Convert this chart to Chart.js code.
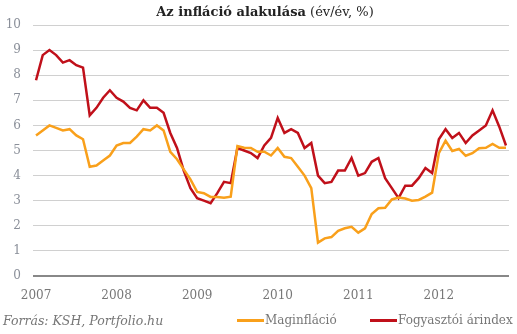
<!DOCTYPE html>
<html>
<head>
<meta charset="utf-8">
<script src="https://cdn.jsdelivr.net/npm/chart.js@4.4.0/dist/chart.umd.min.js"></script>
<style>
  body { margin: 0; background: #fff; }
  #wrap { position: relative; width: 517px; height: 334px; font-family: "DejaVu Serif", Georgia, serif; }
  #title { position: absolute; left: 0; width: 530px; top: 4px; text-align: center; font-size: 13px; color: #222; }
  #title b { font-weight: bold; }
  #source { position: absolute; left: 3px; top: 313px; font-size: 12.5px; font-style: italic; color: #777; }
  .leg { position: absolute; top: 313px; font-size: 12px; color: #777; white-space: nowrap; }
  .leg span { display: inline-block; width: 27px; height: 3px; vertical-align: middle; margin-right: 1px; }
</style>
</head>
<body>
<div id="wrap">
  <canvas id="infl" width="517" height="334"></canvas>
  <div id="title"><b>Az infláció alakulása</b> (év/év, %)</div>
  <div id="source">Forrás: KSH, Portfolio.hu</div>
  <div class="leg" style="left:237px"><span style="background:#f9a01b"></span>Maginfláció</div>
  <div class="leg" style="left:370px"><span style="background:#c0101a"></span>Fogyasztói árindex</div>
</div>
<script>
// monthly data, Jan 2007 - Nov 2012
const yearLabels = ['2007', '2008', '2009', '2010', '2011', '2012'];
const yearTickPos = [0, 12, 24, 36, 48, 60];

const coreInflation = [
  5.6, 5.8, 6.0, 5.9, 5.8, 5.85, 5.6, 5.45, 4.35, 4.4, 4.6, 4.8,
  5.2, 5.3, 5.3, 5.55, 5.85, 5.8, 6.0, 5.8, 4.95, 4.65, 4.25, 3.85,
  3.35, 3.3, 3.15, 3.15, 3.12, 3.16, 5.18, 5.11, 5.1, 4.95, 4.95, 4.8,
  5.1, 4.75, 4.7, 4.35, 4.0, 3.5, 1.33, 1.5, 1.55, 1.8, 1.9, 1.96,
  1.73, 1.9, 2.47, 2.7, 2.72, 3.05, 3.13, 3.09, 3.0, 3.03, 3.16, 3.32,
  4.89, 5.39, 4.98, 5.06, 4.79, 4.89, 5.09, 5.11, 5.26, 5.11, 5.11
];

const cpi = [
  7.8, 8.8, 9.0, 8.8, 8.5, 8.6, 8.4, 8.3, 6.4, 6.7, 7.1, 7.4,
  7.1, 6.95, 6.7, 6.6, 7.0, 6.7, 6.7, 6.5, 5.7, 5.1, 4.2, 3.5,
  3.1, 3.0, 2.9, 3.3, 3.75, 3.7, 5.1, 5.0, 4.9, 4.7, 5.2, 5.5,
  6.3, 5.7, 5.85, 5.7, 5.1, 5.3, 4.0, 3.7, 3.75, 4.2, 4.2, 4.7,
  4.0, 4.1, 4.55, 4.7, 3.9, 3.5, 3.1, 3.6, 3.6, 3.9, 4.3, 4.1,
  5.45, 5.85, 5.5, 5.7, 5.3, 5.6, 5.8, 6.0, 6.6, 5.95, 5.2
];

function toPoints(arr) {
  return arr.map(function (v, i) { return { x: i, y: v }; });
}

const tickColor = '#8a8f99';
const gridDash = function (ctx) { return ctx.tick && ctx.tick.value === 0 ? [] : [4, 4]; };

new Chart(document.getElementById('infl'), {
  type: 'line',
  data: {
    datasets: [{
      label: 'Maginfláció',
      data: toPoints(coreInflation),
      borderColor: '#f9a01b',
      borderWidth: 2.5,
      pointRadius: 0,
      tension: 0
    }, {
      label: 'Fogyasztói árindex',
      data: toPoints(cpi),
      borderColor: '#c0101a',
      borderWidth: 2.5,
      pointRadius: 0,
      tension: 0
    }]
  },
  options: {
    responsive: false,
    animation: false,
    layout: { padding: { top: 25, right: 8, bottom: 28, left: 0 } },
    plugins: {
      legend: { display: false },
      tooltip: { enabled: false }
    },
    scales: {
      x: {
        type: 'linear',
        min: -0.45,
        max: 70.45,
        afterBuildTicks: function (scale) {
          scale.ticks = yearTickPos.map(function (v) { return { value: v }; });
        },
        afterFit: function (scale) { scale.height = 30; },
        grid: { display: false, drawTicks: false },
        border: { display: false },
        ticks: {
          padding: 13,
          maxRotation: 0,
          autoSkip: false,
          color: '#777',
          font: { family: 'DejaVu Serif', size: 12 },
          callback: function (v) {
            const i = yearTickPos.indexOf(v);
            return i >= 0 ? yearLabels[i] : '';
          }
        }
      },
      y: {
        min: 0,
        max: 10,
        afterFit: function (scale) { scale.width = 33; },
        grid: {
          drawTicks: false,
          color: function (ctx) { return ctx.tick.value === 0 ? '#888' : '#d0d0d0'; },
          lineWidth: function (ctx) { return ctx.tick.value === 0 ? 2 : 1; },
          dash: gridDash,
          borderDash: gridDash
        },
        border: { display: false },
        ticks: {
          stepSize: 1,
          padding: 12,
          color: tickColor,
          font: { family: 'DejaVu Serif', size: 12 }
        }
      }
    }
  }
});
</script>
</body>
</html>
